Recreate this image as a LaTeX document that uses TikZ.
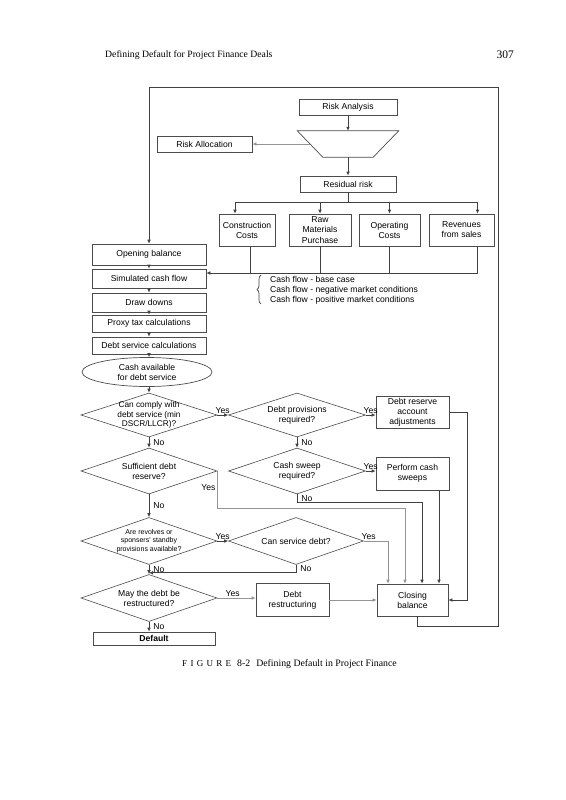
\documentclass[tikz,border=0pt]{standalone}
\usepackage{fontspec}
\setmainfont{Liberation Serif}
\newfontfamily\dsans{Liberation Sans}
\usetikzlibrary{shapes.geometric,arrows.meta,decorations.pathreplacing}
\begin{document}
\begin{tikzpicture}[x=1pt,y=-1pt,
  box/.style={draw=black!70, line width=0.7pt, rectangle, inner sep=1pt, align=center,
    font=\dsans\fontsize{8.6}{10}\selectfont, text=black},
  dia/.style={diamond, draw=black!70, line width=0.6pt, inner sep=0pt},
  dtxt/.style={align=center, font=\dsans\fontsize{8.3}{9.2}\selectfont, inner sep=0pt},
  conn/.style={draw=black!75, line width=0.7pt, -{Latex[length=4pt,width=3.6pt]}},
  plain/.style={draw=black!75, line width=0.7pt},
  lgt/.style={draw=black!42},
  lbl/.style={font=\dsans\fontsize{8.6}{10}\selectfont, inner sep=1.5pt},
  nol/.style={lbl, right, xshift=2.5pt}
]
\useasboundingbox (0,0) rectangle (565,800);

% header and caption
\node[anchor=base west, font=\fontsize{9.7}{11}\selectfont, inner sep=0pt] (hdr) at (105,58) {Defining Default for Project Finance Deals};
\node[anchor=base east, font=\fontsize{11.5}{12}\selectfont, inner sep=0pt] (pg) at (514,59) {307};
\node[anchor=base west, inner sep=0pt, font=\fontsize{9.8}{11}\selectfont] (cap) at (182,666)
  {{\fontsize{9}{10}\selectfont F\kern3.3pt I\kern3.3pt G\kern3.3pt U\kern3.3pt R\kern3.3pt E}\kern6pt 8-2\kern6pt Defining Default in Project Finance};

% top part
\node[box, minimum width=98pt, minimum height=16pt] (ra) at (348,107) {Risk Analysis};
\node[minimum width=101pt, minimum height=26pt, inner sep=0pt] (trap) at (348,144) {};
\draw[draw=black!70, line width=0.7pt] (trap.north west) -- (trap.north east)
  -- ([xshift=-25.5pt]trap.south east) -- ([xshift=25.5pt]trap.south west) -- cycle;
\node[box, minimum width=95pt, minimum height=16pt] (ralloc) at (204.5,144) {Risk Allocation};
\node[box, minimum width=96pt, minimum height=16pt] (rr) at (348,184) {Residual risk};

\node[box, minimum width=56pt, minimum height=32pt] (cc) at (247,230) {Construction\\Costs};
\node[box, minimum width=62pt, minimum height=32pt, font=\dsans\fontsize{8.6}{10.8}\selectfont] (rm) at (320,230) {Raw\\Materials\\Purchase};
\node[box, minimum width=61pt, minimum height=32pt] (oc) at (389.5,230) {Operating\\Costs};
\node[box, minimum width=65pt, minimum height=32pt] (rev) at (461.5,230) {Revenues\\from sales};

\draw[conn] (ra.south) -- (trap.north);
\draw[conn] (trap.south) -- (rr.north);
\draw[conn, lgt] ([xshift=12.75pt]trap.west) -- (trap.west -| ralloc.east);
\coordinate (bus) at (348,202);
\draw[plain] (rr.south) -- (bus);
\draw[conn] (bus) -| ([xshift=-12pt]cc.north);
\draw[conn] (bus) -| (rm.north);
\draw[conn] (bus) -| (oc.north);
\draw[conn] (bus) -| ([xshift=16pt]rev.north);

% left column
\node[box, minimum width=114pt, minimum height=21pt] (ob) at (149,254.5) {Opening balance};
\node[box, minimum width=114pt, minimum height=19pt] (sim) at (149,278.5) {Simulated cash flow};
\node[box, minimum width=114pt, minimum height=19pt] (dd) at (149,302.5) {Draw downs};
\node[box, minimum width=114pt, minimum height=17pt] (ptc) at (149,323.5) {Proxy tax calculations};
\node[box, minimum width=114pt, minimum height=17pt] (dsc) at (149,345.5) {Debt service calculations};
\draw[conn] (ob) -- (sim);
\draw[conn] (sim) -- (dd);
\draw[conn] (dd) -- (ptc);
\draw[conn] (ptc) -- (dsc);

% cash flows into simulated cash flow
\coordinate (cfl) at ([yshift=5.5pt]sim.east);
\draw[conn] ([xshift=16pt]rev.south) |- (cfl);
\draw[plain] ([xshift=3pt]cc.south) -- ([xshift=3pt]cc.south |- cfl);
\draw[plain] (rm.south) -- (rm.south |- cfl);
\draw[plain] (oc.south) -- (oc.south |- cfl);
\draw[plain, decorate, decoration={brace, amplitude=4pt}] (261,304) -- (261,275);
\node[lbl, align=left, anchor=west, inner sep=0pt] (cft) at (270,290) {Cash flow - base case\\Cash flow - negative market conditions\\Cash flow - positive market conditions};

% ellipse
\node[ellipse, draw=black!70, line width=0.7pt, minimum width=130pt, minimum height=29pt, inner sep=0pt,
      align=center, font=\dsans\fontsize{8.6}{10}\selectfont] (cash) at (147,372) {Cash available\\for debt service};
\draw[conn] (dsc.south) -- (dsc.south |- cash.north);

% diamonds
\node[dia, minimum width=136pt, minimum height=44pt,
  label={[dtxt]center:{Can comply with\\debt service (min\\DSCR/LLCR)?}}] (d1) at (149,415) {};
\node[dia, minimum width=137pt, minimum height=44pt,
  label={[dtxt, font=\dsans\fontsize{8.6}{10}\selectfont]center:{Debt provisions\\required?}}] (d2) at (297,415) {};
\node[dia, minimum width=137pt, minimum height=46pt,
  label={[dtxt, font=\dsans\fontsize{8.6}{10}\selectfont]center:{Cash sweep\\required?}}] (d3) at (297,471) {};
\node[dia, minimum width=136pt, minimum height=46pt,
  label={[dtxt, font=\dsans\fontsize{8.6}{10}\selectfont]center:{Sufficient debt\\reserve?}}] (d4) at (149,471) {};
\node[dia, minimum width=136pt, minimum height=47pt,
  label={[dtxt, font=\dsans\fontsize{7}{8.8}\selectfont]center:{Are revolves or\\sponsers' standby\\provisions available?}}] (d5) at (149,541) {};
\node[dia, minimum width=135pt, minimum height=47pt,
  label={[dtxt, font=\dsans\fontsize{8.6}{10}\selectfont]center:{Can service debt?}}] (d6) at (296,541) {};
\node[dia, minimum width=136pt, minimum height=47pt,
  label={[dtxt, font=\dsans\fontsize{8.6}{10}\selectfont]center:{May the debt be\\restructured?}}] (d7) at (149,598) {};

\draw[conn] (d1.north |- cash.south) -- (d1.north);

% right boxes
\node[box, minimum width=73pt, minimum height=32pt] (dra) at (412.5,412) {Debt reserve\\account\\adjustments};
\node[box, minimum width=73pt, minimum height=33pt] (pcs) at (412.5,473.5) {Perform cash\\sweeps};
\node[box, minimum width=73pt, minimum height=33pt] (drs) at (292.5,600) {Debt\\restructuring};
\node[box, minimum width=71pt, minimum height=32pt] (cb) at (412.5,600) {Closing\\balance};
\node[box, minimum width=122pt, minimum height=13pt, inner sep=0pt,
      font=\dsans\bfseries\fontsize{8.6}{10}\selectfont] (def) at (154,638.5) {Default};

% decisions connectors
\draw[conn] (d1.east) -- (d2.west) node[lbl, above, midway]{Yes};
\draw[conn] (d2.east) -- (d2.east -| dra.west) node[lbl, above, midway]{Yes};
\draw[conn] (d2.south) -- (d3.north) node[nol, midway]{No};
\draw[conn] (d3.east) -- (d3.east -| pcs.west) node[lbl, above, midway]{Yes};
\draw[conn] (d1.south) -- (d4.north) node[nol, midway]{No};
\draw[conn] (d4.south) -- (d5.north) node[nol, midway]{No};
\draw[conn] (d5.east) -- (d6.west) node[lbl, above, midway]{Yes};
\draw[conn] (d5.south) -- (d7.north) node[nol, midway]{No};
\draw[conn, lgt] (d7.east) -- (d7.east -| drs.west) node[lbl, above, pos=0.4]{Yes};
\draw[conn, lgt] (drs.east) -- (drs.east -| cb.west);
\draw[conn] (d7.south) -- (d7.south |- def.north) node[nol, midway]{No};

% to closing balance
\draw[conn] (dra.east) -- ++(18,0) |- (cb.east);
\draw[conn] ([xshift=26.5pt]pcs.south) -- ([xshift=26.5pt]pcs.south |- cb.north);
\draw[conn] (d3.south) -- ++(0,8) node[nol, midway]{No} -| ([xshift=9.5pt]cb.north);
\draw[conn, lgt] (d4.east) -- ++(0,37) node[lbl, left, pos=0.46]{Yes} -| ([xshift=-7.5pt]cb.north);
\draw[conn, lgt] (d6.east) -| node[lbl, above, pos=0.1]{Yes} ([xshift=-24.5pt]cb.north);
\coordinate (d6n) at ([yshift=-8pt]d6.south);
\draw[conn] (d6.south) -- (d6n) node[nol, midway]{No} -- (d6n -| d5.south);

% loop back
\coordinate (lpb) at (498,626);
\coordinate (lpt) at (498,87);
\draw[conn] ([xshift=4.5pt]cb.south) |- (lpb) -- (lpt) -| (ob.north);
\end{tikzpicture}
\end{document}
